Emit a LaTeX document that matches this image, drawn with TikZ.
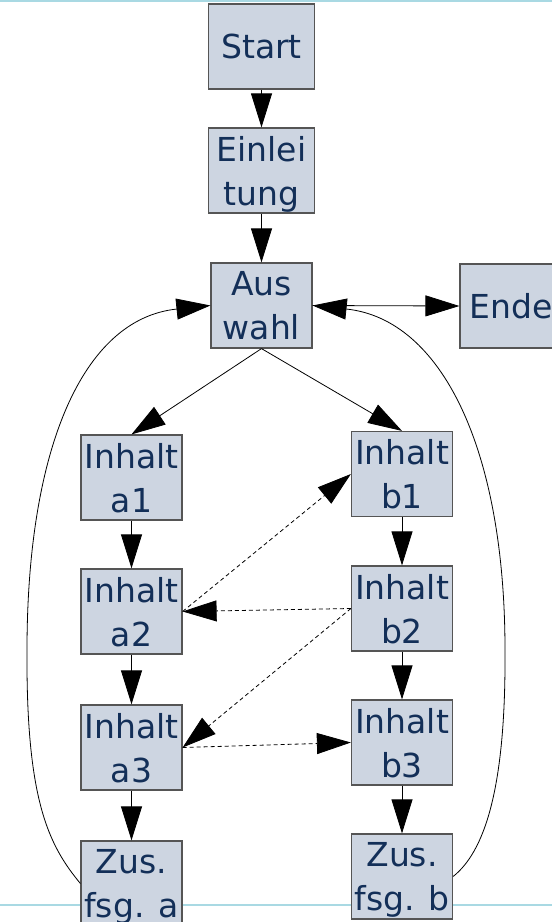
\documentclass[tikz,border=0pt]{standalone}
\usepackage{fontspec}
\setmainfont{DejaVu Sans}
\usetikzlibrary{arrows.meta}
\definecolor{kastenfill}{HTML}{CDD5E1}
\definecolor{kastenrand}{HTML}{555555}
\definecolor{schrift}{HTML}{132F58}
\definecolor{randlinie}{HTML}{A9D9E3}

\begin{document}
\begin{tikzpicture}[x=1pt,y=-1pt,
    kasten/.style={draw=kastenrand,fill=kastenfill,line width=1.2pt,
      minimum width=101pt,minimum height=85pt,inner sep=0pt,align=center,
      text=schrift,text depth=0pt,font=\fontsize{33}{44}\selectfont},
    pfeil/.style={-{Triangle[length=34pt,width=21pt]},line width=0.8pt},
    strich/.style={pfeil,dash pattern=on 4pt off 3pt}]
\useasboundingbox (0,0) rectangle (552,922);
\clip (0,0) rectangle (552,922);
\draw[randlinie,line width=1.5pt] (0,1) -- (552,1); % Rand oben
\draw[randlinie,line width=1.5pt] (0,905) -- (552,905); % Rand unten
\node[kasten,minimum width=106pt] (start) at (261.5,46.5) {Start}; % Start
\node[kasten,minimum width=106pt] (einl) at (261.5,170.5) {Einlei\\tung}; % Einleitung
\node[kasten] (ausw) at (261.5,305.5) {Aus\\wahl}; % Auswahl
\node[kasten,minimum width=102pt,minimum height=84pt] (ende) at (511,306) {Ende}; % Ende
\node[kasten] (a1) at (131.5,477.5) {Inhalt\\a1}; % Inhalt a1
\node[kasten] (a2) at (131.5,611.5) {Inhalt\\a2}; % Inhalt a2
\node[kasten] (a3) at (131.5,747.5) {Inhalt\\a3}; % Inhalt a3
\node[kasten] (zusa) at (131.5,883.5) {Zus.\\fsg. a}; % Zus. fsg. a
\node[kasten] (b1) at (402,474) {Inhalt\\b1}; % Inhalt b1
\node[kasten] (b2) at (402,608.5) {Inhalt\\b2}; % Inhalt b2
\node[kasten] (b3) at (402,742.5) {Inhalt\\b3}; % Inhalt b3
\node[kasten] (zusb) at (402,876.5) {Zus.\\fsg. b}; % Zus. fsg. b
\draw[pfeil] (start) -- (einl); % Start -> Einleitung
\draw[pfeil] (einl) -- (ausw); % Einleitung -> Auswahl
\draw[pfeil] (ausw.east) -- (ende.west); % Auswahl -> Ende
\draw[pfeil] (ausw.south) -- (a1.north); % Zweig a
\draw[pfeil] (ausw.south) -- (b1.north); % Zweig b
\draw[pfeil] (a1) -- (a2);
\draw[pfeil] (a2) -- (a3);
\draw[pfeil] (a3) -- (zusa);
\draw[pfeil] (b1) -- (b2);
\draw[pfeil] (b2) -- (b3);
\draw[pfeil] (b3) -- (zusb);
\draw[strich] (a2.east) -- (b1.west); % Wechsel
\draw[strich] (b2.west) -- (a2.east);
\draw[strich] (b2.west) -- (a3.east);
\draw[strich] (a3.east) -- (b3.west);
\draw[pfeil] (zusa.west) .. controls (48.5,845) and (26,800) .. (27,650)
  .. controls (27,450) and (82,319) .. (ausw.west); % zurueck a
\draw[pfeil] (zusb.east) .. controls (484,852) and (506,790) .. (505,650)
  .. controls (505,450) and (442,319) .. (ausw.east); % zurueck b
\end{tikzpicture}
\end{document}
